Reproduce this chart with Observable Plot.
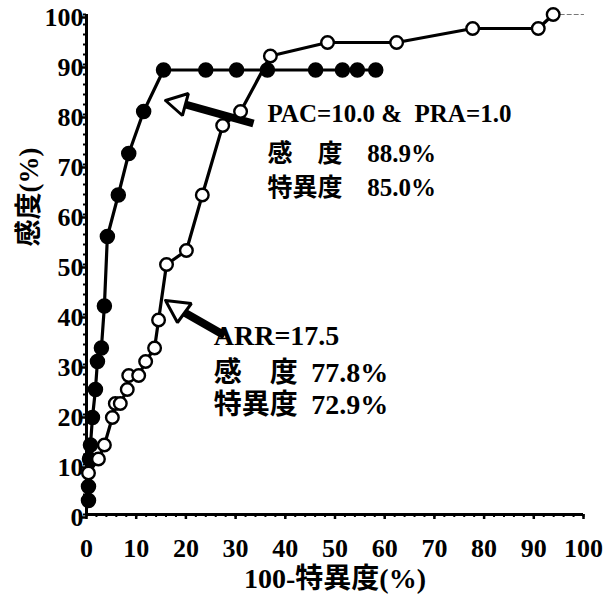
<!DOCTYPE html>
<html><head><meta charset="utf-8">
<script src="https://cdn.jsdelivr.net/npm/d3@7"></script>
<script src="https://cdn.jsdelivr.net/npm/@observablehq/plot@0.6"></script>
<style>body{margin:0;background:#fff}</style>
</head><body><div id="chart"></div>
<script>
// PAC & PRA combined (filled markers): x = 100 - specificity, y = sensitivity
const pacX = [0.4, 0.4, 0.6, 0.8, 1.2, 1.8, 2.2, 3.0, 3.6, 4.2, 6.4, 8.5, 11.5, 15.5, 24.0, 30.2, 36.4, 46.1, 51.5, 54.5, 58.2];
const pacY = [2.8, 5.6, 11.1, 13.9, 19.4, 25.0, 30.6, 33.3, 41.7, 55.6, 63.9, 72.2, 80.6, 88.9, 88.9, 88.9, 88.9, 88.9, 88.9, 88.9, 88.9];
// ARR (open markers)
const arrX = [0.4, 2.4, 3.6, 5.2, 5.8, 6.8, 8.2, 8.5, 10.5, 11.9, 13.7, 14.5, 16.1, 20.1, 23.3, 27.4, 31.0, 37.0, 48.5, 62.4, 77.7, 90.9, 93.9];
const arrY = [8.3, 11.1, 13.9, 19.4, 22.2, 22.2, 25.0, 27.8, 27.8, 30.6, 33.3, 38.9, 50.0, 52.8, 63.9, 77.8, 80.6, 91.7, 94.4, 94.4, 97.2, 97.2, 100];
const tailX = [93.9, 100];
const tailY = [100, 100];

const xTicks = [0, 10, 20, 30, 40, 50, 60, 70, 80, 90, 100];
const yTicks = [0, 10, 20, 30, 40, 50, 60, 70, 80, 90, 100];
const minorTicks = d3.range(0, 101, 2);

const xTitle = "100-特異度(%)";
const yTitle = "感度(%)";

// annotations
const head1X = [15.9, 20.5, 19.3, 15.9];
const head1Y = [82.8, 84.2, 79.8, 82.8];
const shaft1 = [19.9, 82.0, 33.6, 78.2];
const head2X = [15.9, 21.1, 18.3, 15.9];
const head2Y = [42.8, 42.2, 38.4, 42.8];
const shaft2 = [19.7, 40.4, 27.8, 35.8];

const pacNoteText = ["PAC=10.0 &  PRA=1.0", "感　度", "特異度"];
const pacNoteX = [36.4, 36.4, 36.4];
const pacNoteY = [80.2, 72.2, 65.4];
const pacValText = ["88.9%", "85.0%"];
const pacValX = [56.5, 56.5];
const pacValY = [72.2, 65.4];

const arrNoteText = ["ARR=17.5", "感　度", "特異度"];
const arrNoteX = [25.6, 25.6, 25.6];
const arrNoteY = [35.6, 28.2, 21.8];
const arrValText = ["77.8%", "72.9%"];
const arrValX = [45.2, 45.2];
const arrValY = [28.2, 21.8];

const pac = pacX.map((x, i) => ({x, y: pacY[i]}));
const arr = arrX.map((x, i) => ({x, y: arrY[i]}));
const tail = tailX.map((x, i) => ({x, y: tailY[i]}));
const heads = [
  ...head1X.map((x, i) => ({id: 1, x, y: head1Y[i]})),
  ...head2X.map((x, i) => ({id: 2, x, y: head2Y[i]}))
];
const shafts = [shaft1, shaft2].map(s => ({x1: s[0], y1: s[1], x2: s[2], y2: s[3]}));
const pacNotes = pacNoteText.map((t, i) => ({t, x: pacNoteX[i], y: pacNoteY[i]}))
  .concat(pacValText.map((t, i) => ({t, x: pacValX[i], y: pacValY[i]})));
const arrNotes = arrNoteText.map((t, i) => ({t, x: arrNoteX[i], y: arrNoteY[i]}))
  .concat(arrValText.map((t, i) => ({t, x: arrValX[i], y: arrValY[i]})));

const FONT = "'Liberation Serif', 'Noto Sans CJK JP', serif";

const chart = Plot.plot({
  width: 616,
  height: 601,
  marginLeft: 86,
  marginRight: 33,
  marginTop: 14,
  marginBottom: 87,
  style: {fontFamily: FONT, fontWeight: "bold", color: "black", background: "white"},
  x: {domain: [0, 100]},
  y: {domain: [0, 100]},
  marks: [
    Plot.axisY(minorTicks, {anchor: "left", tickSize: 3, strokeWidth: 2, tickFormat: () => ""}),
    Plot.axisY(yTicks, {anchor: "left", tickSize: 5, tickPadding: -2, strokeWidth: 2.5, fontSize: 26, fontWeight: "bold", tickFormat: d => String(d), dy: 3}),
    Plot.axisX(minorTicks, {anchor: "bottom", tickSize: 3, strokeWidth: 2, tickFormat: () => ""}),
    Plot.axisX(xTicks, {anchor: "bottom", tickSize: 5, tickPadding: 19, strokeWidth: 2.5, fontSize: 26, fontWeight: "bold", tickFormat: d => String(d)}),
    Plot.ruleY([0], {strokeWidth: 3}),
    Plot.ruleX([0], {strokeWidth: 3}),
    Plot.text([xTitle], {frameAnchor: "bottom", dy: 65, text: d => d, fontSize: 28, fontWeight: "bold", lineAnchor: "middle"}),
    Plot.text([yTitle], {frameAnchor: "left", dx: -57, dy: -18, rotate: -90, text: d => d, fontSize: 27, fontWeight: "bold", lineAnchor: "middle"}),
    // arrows
    Plot.link(shafts, {x1: "x1", y1: "y1", x2: "x2", y2: "y2", strokeWidth: 8, stroke: "black"}),
    Plot.line(heads, {x: "x", y: "y", z: "id", fill: "white", stroke: "black", strokeWidth: 3, strokeLinejoin: "miter"}),
    // series
    Plot.line(tail, {x: "x", y: "y", stroke: "#777", strokeWidth: 1.2, strokeDasharray: "4,3"}),
    Plot.line(pac, {x: "x", y: "y", stroke: "black", strokeWidth: 3.2}),
    Plot.dot(pac, {x: "x", y: "y", r: 7, fill: "black", stroke: "black"}),
    Plot.line(arr, {x: "x", y: "y", stroke: "black", strokeWidth: 3.2}),
    Plot.dot(arr, {x: "x", y: "y", r: 6.3, fill: "white", stroke: "black", strokeWidth: 2.4}),
    // annotation text
    Plot.text(pacNotes, {x: "x", y: "y", text: "t", textAnchor: "start", lineAnchor: "middle", fontSize: 25, fontWeight: "bold"}),
    Plot.text(arrNotes, {x: "x", y: "y", text: "t", textAnchor: "start", lineAnchor: "middle", fontSize: 28, fontWeight: "bold"})
  ]
});
document.getElementById("chart").appendChild(chart);
</script>
</body></html>
